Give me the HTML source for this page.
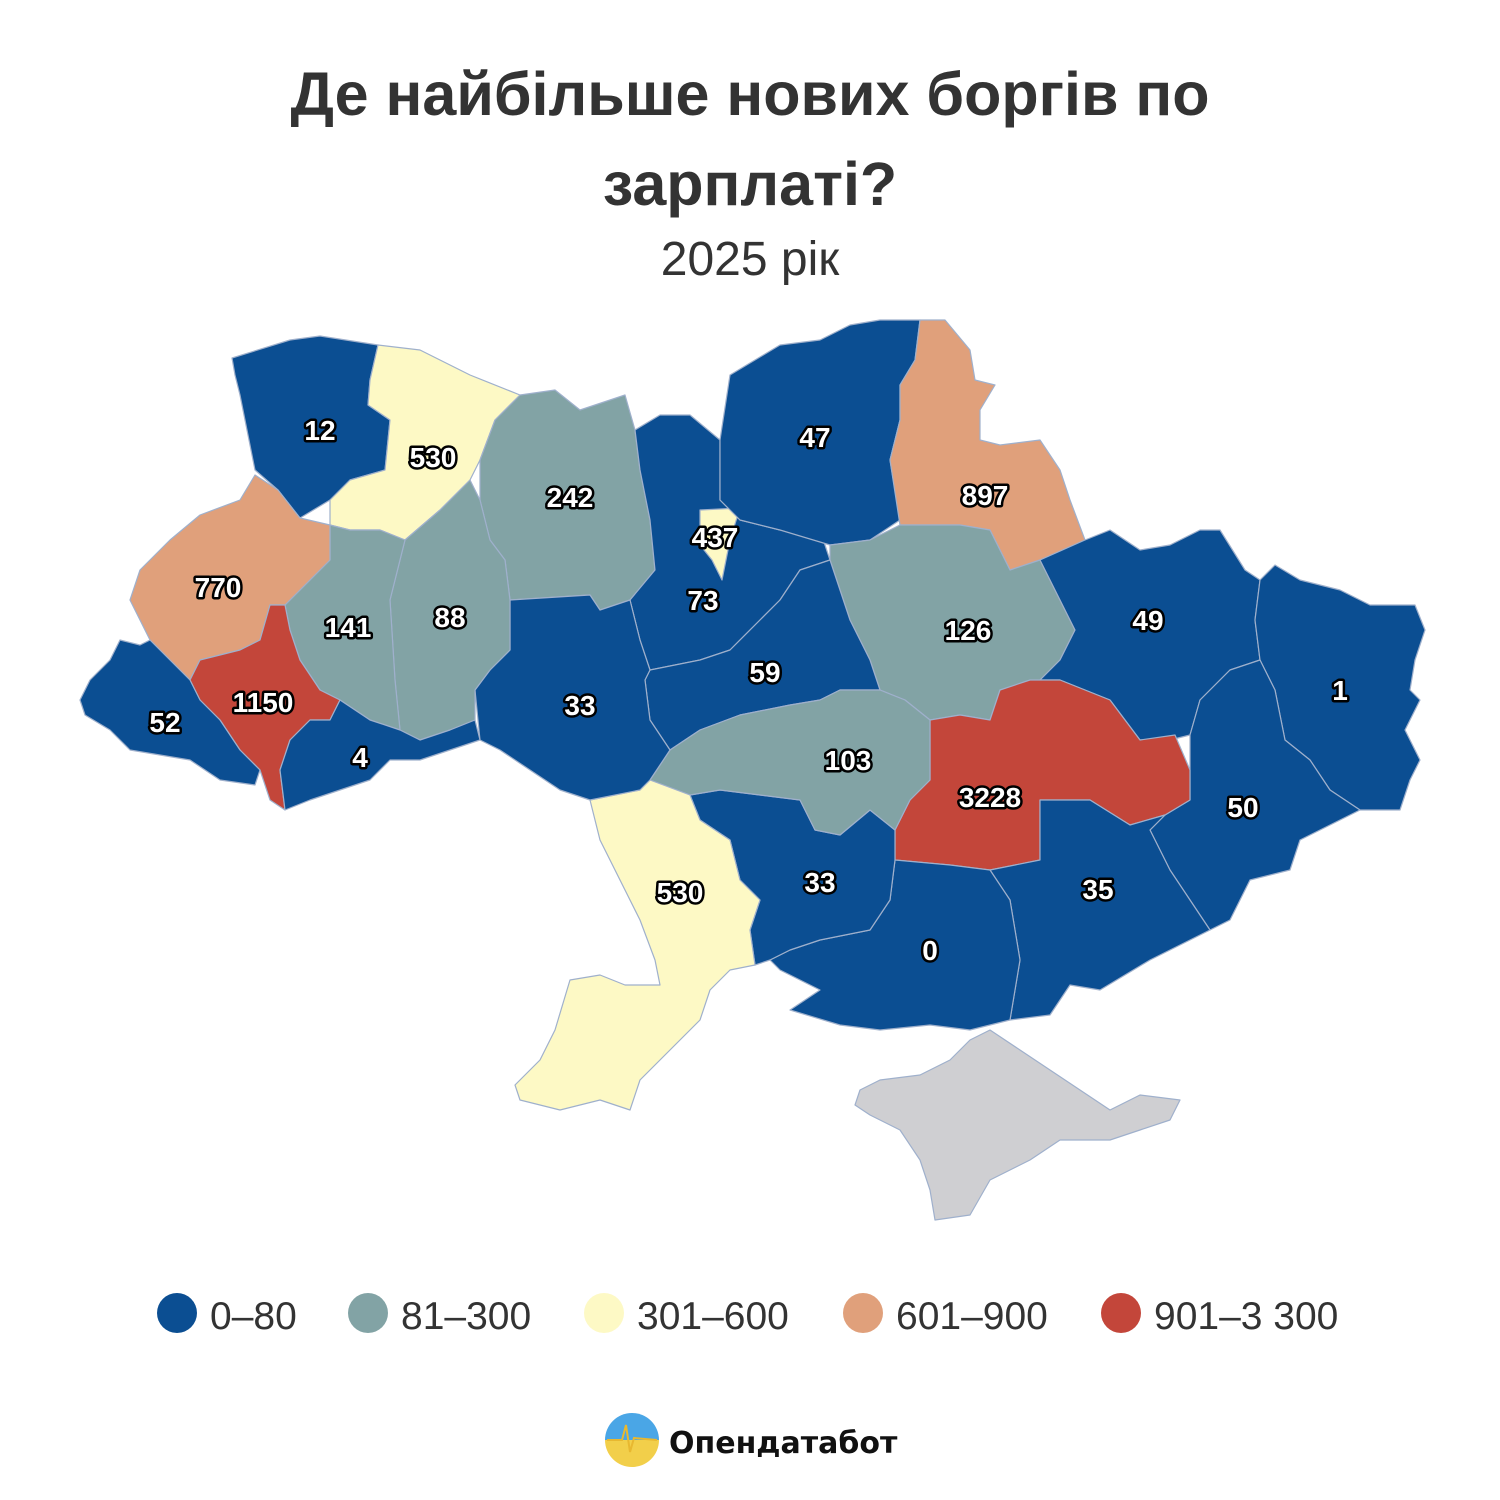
<!DOCTYPE html>
<html><head><meta charset="utf-8"><style>
html,body{margin:0;padding:0;background:#fff;width:1500px;height:1500px;overflow:hidden}
svg{display:block}
.t{font-family:"Liberation Sans",sans-serif;font-weight:bold;font-size:61px;fill:#333;text-anchor:middle}
.s{font-family:"Liberation Sans",sans-serif;font-size:48px;fill:#333;text-anchor:middle}
.l{font-family:"Liberation Sans",sans-serif;font-weight:bold;font-size:28px;fill:#fff;stroke:#000;stroke-width:5px;paint-order:stroke;stroke-linejoin:round;text-anchor:middle}
.g{font-family:"Liberation Sans",sans-serif;font-size:39px;fill:#333}
path,polygon{stroke:#9fb0cc;stroke-width:1.2;stroke-linejoin:round}
.b{fill:#0b4e92}.c{fill:#82a3a5}.y{fill:#fdf9c5}.o{fill:#e0a07b}.r{fill:#c3463a}.k{fill:#cfcfd2}
</style></head><body>
<svg width="1500" height="1500" viewBox="0 0 1500 1500">
<text class="t" x="750" y="115">Де найбільше нових боргів по</text>
<text class="t" x="750" y="205">зарплаті?</text>
<text class="s" x="750" y="275">2025 рік</text>

<polygon class="b" points="232,358 290,340 320,336 378,345 370,380 368,405 390,420 385,470 350,480 330,500 300,518 278,490 255,470 245,420 240,395 235,375"/>
<polygon class="y" points="378,345 420,350 470,375 520,395 495,420 480,460 470,480 440,510 405,540 380,530 350,530 330,525 330,500 350,480 385,470 390,420 368,405 370,380"/>
<polygon class="c" points="520,395 555,390 580,410 610,400 625,395 635,430 640,470 650,520 655,570 630,600 600,610 590,595 510,600 505,560 490,540 480,500 480,460 495,420"/>
<polygon class="b" points="635,430 660,415 690,415 720,440 720,500 740,520 780,530 820,530 830,560 800,570 780,600 760,620 730,650 700,660 650,670 640,640 630,600 655,570 650,520 640,470"/>
<polygon class="y" points="700,510 740,508 730,540 722,580 712,560 700,545"/>
<polygon class="b" points="720,440 730,375 780,345 820,340 850,325 880,320 920,320 915,360 900,385 900,420 890,460 900,520 870,540 830,545 780,530 740,520 720,500"/>
<polygon class="o" points="920,320 945,320 970,350 975,380 995,385 980,410 980,440 1000,445 1040,440 1060,470 1070,500 1085,540 1040,560 1010,570 990,530 960,525 900,525 890,460 900,420 900,385 915,360"/>
<polygon class="c" points="830,545 870,540 900,525 960,525 990,530 1010,570 1040,560 1060,600 1075,630 1060,660 1040,680 1000,690 990,720 960,715 930,720 905,700 880,690 870,660 850,620 840,590 830,560"/>
<polygon class="b" points="760,620 780,600 800,570 830,560 840,590 850,620 870,660 880,690 840,690 820,700 790,705 740,715 700,730 670,750 650,720 645,680 650,670 700,660 730,650"/>
<polygon class="b" points="1040,560 1085,540 1110,530 1140,550 1170,545 1200,530 1220,530 1245,570 1260,580 1255,620 1260,660 1230,670 1200,700 1190,735 1170,740 1140,740 1110,700 1060,680 1040,680 1060,660 1075,630 1060,600"/>
<polygon class="b" points="1260,580 1275,565 1300,580 1340,590 1370,605 1415,605 1425,630 1415,660 1410,690 1420,700 1405,730 1420,760 1410,780 1400,810 1360,810 1330,790 1310,760 1285,740 1275,690 1260,660 1255,620"/>
<polygon class="b" points="1190,735 1200,700 1230,670 1260,660 1275,690 1285,740 1310,760 1330,790 1360,810 1300,840 1290,870 1250,880 1230,920 1210,930 1190,900 1170,870 1150,830 1165,815 1190,800 1190,770"/>
<polygon class="r" points="930,720 960,715 990,720 1000,690 1030,680 1060,680 1110,700 1140,740 1175,735 1190,770 1190,800 1165,815 1130,825 1090,800 1040,800 1040,860 990,870 950,865 895,860 895,830 910,800 930,780"/>
<polygon class="b" points="1040,800 1090,800 1130,825 1165,815 1150,830 1170,870 1190,900 1210,930 1150,960 1100,990 1070,985 1060,1000 1050,1015 1010,1020 1020,960 1010,900 990,870 1040,860"/>
<polygon class="b" points="895,860 950,865 990,870 1010,900 1020,960 1010,1020 970,1030 930,1025 880,1030 840,1025 790,1010 820,990 780,970 770,960 790,950 820,940 870,930 890,900"/>
<polygon class="b" points="690,795 720,790 760,795 800,800 815,830 840,835 870,810 895,830 895,860 890,900 870,930 820,940 790,950 770,960 755,965 750,930 760,900 740,880 730,840 700,820"/>
<polygon class="c" points="650,780 670,750 700,730 740,715 790,705 820,700 840,690 880,690 905,700 930,720 930,780 910,800 895,830 870,810 840,835 815,830 800,800 760,795 720,790 690,795"/>
<polygon class="y" points="590,800 640,790 650,780 690,795 700,820 730,840 740,880 760,900 750,930 755,965 730,970 710,990 700,1020 680,1040 660,1060 640,1080 630,1110 600,1100 560,1110 520,1100 515,1085 540,1060 555,1030 570,980 600,975 625,985 660,985 655,960 640,920 625,890 600,840"/>
<polygon class="b" points="510,600 590,595 600,610 630,600 640,640 650,670 645,680 650,720 670,750 650,780 640,790 590,800 560,790 530,770 500,750 480,740 475,690 490,670 510,650"/>
<polygon class="c" points="405,540 440,510 470,480 480,500 490,540 505,560 510,600 510,650 490,670 475,690 475,720 450,730 420,740 400,730 395,680 390,600"/>
<polygon class="c" points="330,525 350,530 380,530 405,540 390,600 395,680 400,730 370,720 340,700 320,690 300,660 290,630 285,605 300,590 330,560"/>
<polygon class="o" points="255,475 278,490 300,518 330,525 330,560 300,590 285,605 270,605 260,640 240,650 200,660 190,680 170,660 150,640 130,600 140,570 170,540 200,515 240,500"/>
<polygon class="r" points="260,640 270,605 285,605 290,630 300,660 320,690 340,700 330,720 310,720 290,740 280,770 285,810 270,800 260,770 240,750 220,720 200,700 190,680 200,660 240,650"/>
<polygon class="b" points="80,700 90,680 110,660 120,640 140,645 150,640 170,660 190,680 200,700 220,720 240,750 260,770 255,785 220,780 190,760 160,755 130,750 110,730 85,715"/>
<polygon class="b" points="340,700 370,720 400,730 420,740 450,730 475,720 480,740 450,750 420,760 390,760 370,780 340,790 310,800 285,810 280,770 290,740 310,720 330,720"/>
<polygon class="k" points="860,1090 880,1080 920,1075 950,1060 970,1040 990,1030 1020,1050 1050,1070 1080,1090 1110,1110 1140,1095 1180,1100 1170,1120 1140,1130 1110,1140 1060,1140 1030,1160 990,1180 970,1215 935,1220 930,1190 920,1160 900,1130 870,1115 855,1105"/>

<text class="l" x="320" y="440">12</text>
<text class="l" x="433" y="467">530</text>
<text class="l" x="570" y="507">242</text>
<text class="l" x="715" y="547">437</text>
<text class="l" x="815" y="447">47</text>
<text class="l" x="985" y="505">897</text>
<text class="l" x="218" y="597">770</text>
<text class="l" x="348" y="637">141</text>
<text class="l" x="450" y="627">88</text>
<text class="l" x="703" y="610">73</text>
<text class="l" x="765" y="682">59</text>
<text class="l" x="968" y="640">126</text>
<text class="l" x="1148" y="630">49</text>
<text class="l" x="1340" y="700">1</text>
<text class="l" x="165" y="732">52</text>
<text class="l" x="263" y="712">1150</text>
<text class="l" x="360" y="767">4</text>
<text class="l" x="580" y="715">33</text>
<text class="l" x="848" y="770">103</text>
<text class="l" x="990" y="807">3228</text>
<text class="l" x="1243" y="817">50</text>
<text class="l" x="680" y="902">530</text>
<text class="l" x="820" y="892">33</text>
<text class="l" x="1098" y="899">35</text>
<text class="l" x="930" y="960">0</text>

<circle cx="177" cy="1313" r="20" fill="#0b4e92"/><text class="g" x="210" y="1329">0–80</text>
<circle cx="368" cy="1313" r="20" fill="#82a3a5"/><text class="g" x="401" y="1329">81–300</text>
<circle cx="604" cy="1313" r="20" fill="#fdf9c5"/><text class="g" x="637" y="1329">301–600</text>
<circle cx="863" cy="1313" r="20" fill="#e0a07b"/><text class="g" x="896" y="1329">601–900</text>
<circle cx="1121" cy="1313" r="20" fill="#c3463a"/><text class="g" x="1154" y="1329">901–3 300</text>

<defs><linearGradient id="lg" x1="0" y1="0" x2="0" y2="1"><stop offset="0.5" stop-color="#4aa6e6"/><stop offset="0.5" stop-color="#f2cf4a"/></linearGradient></defs>
<circle cx="632" cy="1440" r="27" fill="url(#lg)"/>
<polyline points="607,1440 622,1440 626,1425 630,1452 634,1438 657,1440" fill="none" stroke="#e8b830" stroke-width="2"/>
<text x="669" y="1453" font-family="'DejaVu Sans',sans-serif" font-weight="bold" font-size="30" fill="#111">Опендатабот</text>
</svg>
</body></html>
